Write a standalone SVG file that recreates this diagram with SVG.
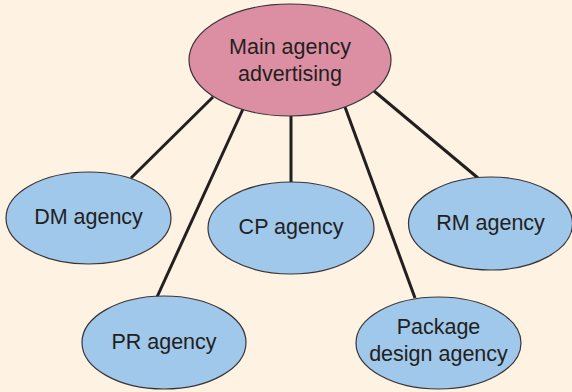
<svg xmlns="http://www.w3.org/2000/svg" width="572" height="392" viewBox="0 0 572 392">
<style>
.bg{fill:#fef2e3}
.main{fill:#dc8fa3;stroke:#3a3436;stroke-width:1.2}
.sub{fill:#a0c8eb;stroke:#3a3436;stroke-width:1.2}
.t{font-family:"Liberation Sans",Arial,sans-serif;font-size:21.5px;fill:#231f20;text-anchor:middle}
.c line{stroke:#231f20;stroke-width:3;stroke-linecap:butt}
</style>
<rect class="bg" x="0" y="0" width="572" height="392"/>
<g class="c" id="connectors">
<line x1="213" y1="97" x2="131" y2="178"/>
<line x1="243" y1="109" x2="157" y2="297"/>
<line x1="291" y1="115" x2="291" y2="182"/>
<line x1="345" y1="107" x2="415" y2="298"/>
<line x1="374" y1="91" x2="478" y2="178"/>
</g>
<g id="main">
<ellipse class="main" cx="290" cy="60" rx="101" ry="56"/>
<text class="t" x="290" y="54">Main agency</text>
<text class="t" x="290" y="81">advertising</text>
</g>
<g id="dm">
<ellipse class="sub" cx="88.5" cy="218" rx="82.5" ry="46"/>
<text class="t" x="88.5" y="224">DM agency</text>
</g>
<g id="pr">
<ellipse class="sub" cx="164" cy="342.5" rx="82" ry="46.5"/>
<text class="t" x="164" y="349">PR agency</text>
</g>
<g id="cp">
<ellipse class="sub" cx="291" cy="228" rx="83" ry="46"/>
<text class="t" x="291" y="234">CP agency</text>
</g>
<g id="package">
<ellipse class="sub" cx="438.5" cy="343" rx="82.5" ry="46"/>
<text class="t" x="438.5" y="334">Package</text>
<text class="t" x="438.5" y="361">design agency</text>
</g>
<g id="rm">
<ellipse class="sub" cx="490.5" cy="223.5" rx="82" ry="46.5"/>
<text class="t" x="490.5" y="230">RM agency</text>
</g>
</svg>
